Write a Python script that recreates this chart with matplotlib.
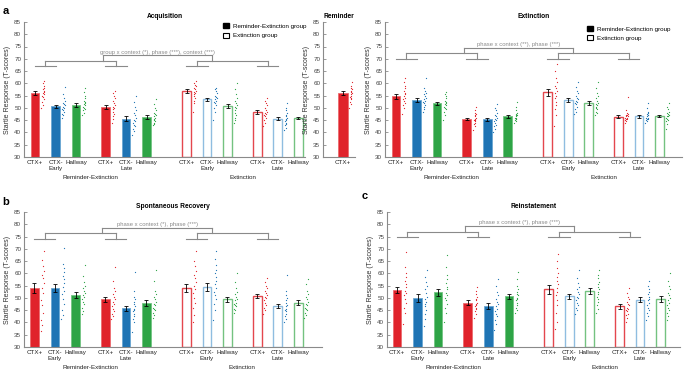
import matplotlib.pyplot as plt
import numpy as np
from matplotlib.patches import Patch

# bar positions / labels shared by all the two-group panels
positions = [0, 1, 2, 3.45, 4.45, 5.45, 7.4, 8.4, 9.4, 10.85, 11.85, 12.85]
tick_labels = ["CTX+", "CTX-\nEarly", "Hallway", "CTX+", "CTX-\nLate", "Hallway"] * 2
group_names = ["Reminder-Extinction", "Extinction"]

# ---- Acquisition ----
acq_means = [56.0, 50.6, 51.2, 50.3, 45.6, 46.2, 56.7, 53.5, 50.7, 48.5, 45.6, 45.9]
acq_sem = [0.8, 0.7, 0.8, 0.8, 1.0, 0.7, 0.8, 0.7, 0.9, 0.8, 0.5, 0.5]
acq_dots = [
    [50, 51, 52.5, 53.5, 54.5, 55, 55.5, 56, 56.5, 57, 57.5, 58, 59, 60, 61],
    [46, 47, 47.5, 48.5, 49, 49.5, 50, 50.5, 51, 51.5, 52, 53, 54, 55.5, 58.5],
    [47, 48, 49, 49.5, 50, 50.5, 51, 51.5, 52, 52.5, 53, 54, 55, 56.5, 58],
    [44, 45.5, 46.5, 47.5, 48.5, 49.5, 50, 50.5, 51, 52, 53, 54, 55, 56, 57],
    [39, 40.5, 41.5, 42.5, 43, 44, 44.5, 45, 46, 47, 48, 49, 50.5, 52.5, 55],
    [43, 43.5, 44, 44.5, 45, 45.5, 46, 46.5, 47, 47.5, 48, 49, 50, 51.5, 53.5],
    [48.5, 52, 53, 54, 55, 55.5, 56, 56.5, 57, 57.5, 58, 59, 59.5, 60, 61],
    [45, 48.5, 50, 51, 52, 52.5, 53, 53.5, 54, 54.5, 55, 56, 57, 57.5, 58],
    [44, 45, 46, 47, 48, 49, 50, 50.5, 51, 52, 53, 54, 55.5, 57.5, 60],
    [42.5, 44, 45, 46, 46.5, 47, 47.5, 48, 48.5, 49, 50, 51, 52, 53, 54],
    [41, 42, 43, 43.5, 44, 44.5, 45, 45.5, 46, 46.5, 47, 48, 49, 50, 52],
    [41, 42.5, 43.5, 44, 44.5, 45, 45.5, 46, 46.5, 47, 47.5, 48, 49, 51, 54],
]

# ---- Reminder ----
rem_mean = 56.0
rem_sem = 0.7
rem_dots = [50, 51.5, 52.5, 53.5, 54, 54.5, 55, 55.5, 56, 56.5, 57, 57.5, 58, 59, 60.5]

# ---- Extinction ----
ext_means = [54.8, 53.3, 51.8, 45.4, 45.3, 46.5, 56.3, 53.2, 52.0, 46.3, 46.6, 46.7]
ext_sem = [1.0, 0.8, 0.7, 0.5, 0.7, 0.7, 1.4, 0.8, 0.8, 0.6, 0.6, 0.6]
ext_dots = [
    [47.5, 50, 51, 52, 53, 53.5, 54, 55, 55.5, 56, 57, 58, 59, 60.5, 62],
    [48.5, 49.5, 50.5, 51, 52, 52.5, 53, 53.5, 54, 55, 55.5, 56, 57, 58, 62],
    [45, 47, 48.5, 49.5, 50, 50.5, 51, 51.5, 52, 52.5, 53, 54, 55, 55.5, 56.5],
    [41, 42.5, 43.5, 44, 44.5, 45, 45, 45.5, 46, 46.5, 47, 47.5, 48, 49, 50.5],
    [40, 41.5, 42.5, 43, 44, 44.5, 45, 45.5, 46, 46.5, 47, 48, 49, 50, 51.5],
    [44, 44.5, 45, 45.5, 45.5, 46, 46, 46.5, 47, 47, 47.5, 48, 49, 50.5, 52.5],
    [42.5, 47, 49.5, 51, 52.5, 54, 55, 56, 57, 58, 59, 60.5, 62, 65, 68],
    [47.5, 48.5, 49.5, 50.5, 51.5, 52, 52.5, 53, 53.5, 54, 55, 56, 57, 58.5, 60.5],
    [47, 48, 48.5, 49.5, 50, 50.5, 51, 51.5, 52, 53, 54, 55, 56, 58, 60.5],
    [44, 44.5, 45, 45.5, 45.5, 46, 46, 46.5, 46.5, 47, 47, 47.5, 48, 49, 54.5],
    [44, 44.5, 45, 45.5, 45.5, 46, 46, 46.5, 47, 47, 47.5, 48, 48.5, 50, 52],
    [41.5, 43.5, 44.5, 45, 45.5, 46, 46.5, 46.5, 47, 47.5, 48, 48.5, 49.5, 50.5, 52],
]

# ---- Spontaneous Recovery ----
sr_means = [54.0, 54.0, 51.0, 49.4, 45.8, 48.0, 54.0, 54.5, 49.4, 50.6, 46.7, 48.1]
sr_sem = [2.2, 1.7, 1.2, 1.0, 1.0, 1.2, 1.7, 1.5, 1.0, 0.8, 0.9, 1.1]
sr_dots = [
    [36.5, 39, 41, 44, 47, 49, 52, 54, 56, 58, 59.5, 61, 63, 65.5, 69],
    [41.5, 43, 45, 47.5, 49.5, 51.5, 53, 54.5, 56, 57.5, 59, 60.5, 62, 64, 70.5],
    [43.5, 44.5, 46, 47.5, 48.5, 49.5, 50.5, 51, 52, 53, 54, 55, 56.5, 59, 63.5],
    [41.5, 42.5, 43.5, 44.5, 45.5, 46.5, 47.5, 48.5, 49.5, 50.5, 51.5, 53, 54, 57, 62.5],
    [36, 40, 41.5, 42.5, 43.5, 44.5, 45, 45.5, 46.5, 47.5, 48.5, 49.5, 50.5, 53, 60.5],
    [42, 43, 44, 45, 45.5, 46, 47, 47.5, 48.5, 49.5, 50.5, 51.5, 53, 57, 61.5],
    [40, 43, 46, 48, 50, 52, 53.5, 55, 56.5, 58, 59.5, 61, 63, 65, 69],
    [41, 45, 47.5, 49.5, 51, 52.5, 54, 55.5, 57, 58.5, 60, 61.5, 63.5, 66, 69],
    [44, 45, 45.5, 46.5, 47, 47.5, 48, 49, 49.5, 50.5, 51.5, 52.5, 54, 56.5, 60],
    [43.5, 45, 46, 47, 48, 49, 50, 50.5, 51, 52, 53, 54, 55, 56.5, 58],
    [40, 41.5, 42.5, 43.5, 44.5, 45, 45.5, 46.5, 47, 48, 49, 50, 51, 53, 59.5],
    [42, 43, 44, 45, 45.5, 46, 47, 47.5, 48.5, 49.5, 50.5, 51.5, 53, 55.5, 57.5],
]

# ---- Reinstatement ----
rein_means = [53.2, 50.0, 52.2, 48.0, 46.8, 50.6, 53.5, 50.7, 52.7, 46.5, 49.3, 49.7]
rein_sem = [1.3, 1.5, 1.6, 1.0, 1.3, 1.0, 1.8, 1.0, 1.2, 1.0, 0.9, 1.2]
rein_dots = [
    [39.5, 44, 46, 48, 49.5, 51, 52, 53, 54.5, 55.5, 57, 58.5, 60, 62.5, 68.5],
    [38.5, 41.5, 43.5, 45, 46.5, 47.5, 48.5, 49.5, 50.5, 52, 53.5, 55, 56.5, 58.5, 61.5],
    [40, 44, 46, 47.5, 49, 50, 51, 52, 53.5, 54.5, 56, 57.5, 59.5, 62.5, 67.5],
    [42, 43.5, 44.5, 45.5, 46, 46.5, 47, 47.5, 48, 49, 49.5, 50.5, 51.5, 53, 54.5],
    [37, 39.5, 41, 42.5, 43.5, 44.5, 45.5, 46.5, 47.5, 48.5, 49.5, 51, 52.5, 55, 57.5],
    [44, 45, 46, 47, 48, 49, 49.5, 50, 51, 51.5, 52.5, 53.5, 55, 57.5, 60.5],
    [37.5, 40, 44, 47, 49, 51, 52.5, 54, 55.5, 57, 58.5, 60, 62, 65, 68],
    [43.5, 45, 46, 47, 48, 49, 50, 50.5, 51.5, 52.5, 53.5, 54.5, 56, 58, 61.5],
    [44, 45.5, 47, 48.5, 49.5, 50.5, 51.5, 52.5, 53.5, 54.5, 55.5, 56.5, 58, 59.5, 61.5],
    [40, 42, 43, 43.5, 44.5, 45, 45.5, 46, 47, 47.5, 48.5, 49.5, 50.5, 52, 54],
    [41, 42.5, 44, 45, 46, 47, 48, 49, 49.5, 50.5, 51.5, 52.5, 53.5, 55, 57],
    [41, 42.5, 44, 45, 46, 47, 48, 49, 50, 51, 52, 53.5, 55, 57, 60],
]

RED, BLUE, GREEN = "#e0232b", "#1f74b4", "#2ea446"
FILL_EDGE = ["#ec6a6e", "#6aa6d3", "#73c482"]
OPEN_EDGE = ["#e4474d", "#8fbde0", "#74c280"]
COLORS = [RED, BLUE, GREEN]
GREY = "#8a8a8a"
TICK_FS = 4.5

plt.rcParams["font.family"] = "Liberation Sans"

fig = plt.figure(figsize=(6.85, 3.72), dpi=100)


def style_axis(ax, xlim):
    ax.set_xlim(*xlim)
    ax.set_ylim(30, 85)
    ax.set_yticks(range(30, 86, 5))
    for side in ("top", "right"):
        ax.spines[side].set_visible(False)
    for side in ("left", "bottom"):
        ax.spines[side].set_color(GREY)
        ax.spines[side].set_linewidth(0.8)
    ax.tick_params(axis="y", direction="in", length=2.5, width=0.6, color=GREY,
                   labelsize=TICK_FS, labelcolor="#444", pad=2)
    ax.tick_params(axis="x", direction="in", length=2.5, width=0.7, color="black",
                   labelsize=TICK_FS, labelcolor="#222", pad=2.5)
    ax.set_ylabel("Startle Response (T-scores)", fontsize=5, color="#333", labelpad=2)


def draw_dots(ax, x, vals, color):
    vals = np.sort(np.asarray(vals, dtype=float))
    n = len(vals)
    idx = np.arange(n)
    offs = 0.3 + 0.08 * idx / (n - 1) + 0.12 * ((idx * 0.618) % 1)
    ax.scatter(x + offs, vals, s=0.8, color=color, linewidths=0, zorder=3)


def draw_panel(ax, means, sems, dots, xlim, title, levels, stat_text):
    style_axis(ax, xlim)
    for i, (x, m, s) in enumerate(zip(positions, means, sems)):
        c = i % 3
        if i < 6:
            ax.bar(x, m - 30, bottom=30, width=0.42, color=COLORS[c],
                   edgecolor=FILL_EDGE[c], linewidth=0.6, zorder=2)
        else:
            ax.bar(x, m - 30, bottom=30, width=0.42, color="white",
                   edgecolor=OPEN_EDGE[c], linewidth=1.0, zorder=2)
        ax.errorbar(x, m, yerr=s, fmt="none", ecolor="black", elinewidth=0.6,
                    capsize=1.3, capthick=0.6, zorder=4)
        draw_dots(ax, x, dots[i], COLORS[c])
    ax.set_xticks(positions)
    ax.set_xticklabels(tick_labels)
    for g, name in enumerate(group_names):
        xc = np.mean(positions[g * 6:(g + 1) * 6])
        ax.annotate(name, xy=(xc, 0), xycoords=("data", "axes fraction"),
                    xytext=(0, -13), textcoords="offset points",
                    ha="center", va="top", fontsize=TICK_FS, color="#222")
    ax.set_title(title, fontsize=4.8, fontweight="bold", pad=3)

    # dendrogram-style comparison brackets
    low, mid, top = levels
    kw = dict(color=GREY, linewidth=0.8, clip_on=False, zorder=1)
    for p0 in (0, 3.45, 7.4, 10.85):
        ax.plot([p0 - 0.02, p0 + 1.02], [low, low], **kw)
        ax.plot([p0 + 0.5, p0 + 0.5], [low, mid], **kw)
    for a, b in ((0.5, 3.95), (7.9, 11.35)):
        ax.plot([a, b], [mid, mid], **kw)
    for xv in (3.3, 8.65):
        ax.plot([xv, xv], [mid, top], **kw)
    ax.plot([3.3, 8.65], [top, top], **kw)
    ax.text((3.3 + 8.65) / 2, top + 0.2, stat_text, ha="center", va="bottom",
            fontsize=4.2, color=GREY)


def add_legend(ax, anchor):
    handles = [Patch(facecolor="black", edgecolor="black"),
               Patch(facecolor="white", edgecolor="black", linewidth=0.8)]
    ax.legend(handles, ["Reminder-Extinction group", "Extinction group"],
              loc="upper left", bbox_to_anchor=anchor, frameon=False,
              fontsize=TICK_FS, handlelength=0.9, handleheight=0.9,
              handletextpad=0.7, labelspacing=0.6, borderaxespad=0)


# panel a: acquisition
ax_acq = fig.add_axes([0.0350, 0.578, 0.410, 0.363])
draw_panel(ax_acq, acq_means, acq_sem, acq_dots, (-0.54, 13.17), "Acquisition",
           (67, 69.2, 71.5), "group x context (*), phase (***), context (***)")
add_legend(ax_acq, (0.70, 1.01))

# panel a: reminder
ax_rem = fig.add_axes([0.4715, 0.578, 0.0467, 0.363])
style_axis(ax_rem, (-0.98, 0.59))
ax_rem.bar(0, rem_mean - 30, bottom=30, width=0.5, color=RED,
           edgecolor=FILL_EDGE[0], linewidth=0.6, zorder=2)
ax_rem.errorbar(0, rem_mean, yerr=rem_sem, fmt="none", ecolor="black",
                elinewidth=0.6, capsize=1.3, capthick=0.6, zorder=4)
draw_dots(ax_rem, 0, rem_dots, RED)
ax_rem.set_xticks([0])
ax_rem.set_xticklabels(["CTX+"])
ax_rem.set_title("Reminder", fontsize=4.8, fontweight="bold", pad=3)

# panel a: extinction
ax_ext = fig.add_axes([0.562, 0.578, 0.4336, 0.363])
draw_panel(ax_ext, ext_means, ext_sem, ext_dots, (-0.54, 13.95), "Extinction",
           (70, 72.2, 74.5), "phase x context (**), phase (***)")
add_legend(ax_ext, (0.672, 0.99))

# panel b: spontaneous recovery
ax_sr = fig.add_axes([0.035, 0.0672, 0.435, 0.363])
draw_panel(ax_sr, sr_means, sr_sem, sr_dots, (-0.51, 14.0), "Spontaneous Recovery",
           (74, 76.3, 78.6), "phase x context (*), phase (***)")

# panel c: reinstatement
ax_rein = fig.add_axes([0.565, 0.0672, 0.4277, 0.363])
draw_panel(ax_rein, rein_means, rein_sem, rein_dots, (-0.49, 13.8), "Reinstatement",
           (74.7, 77, 79.3), "phase x context (*), phase (***)")

fig.text(0.004, 0.985, "a", fontsize=8, fontweight="bold", va="top")
fig.text(0.004, 0.47, "b", fontsize=8, fontweight="bold", va="top")
fig.text(0.528, 0.487, "c", fontsize=8, fontweight="bold", va="top")

fig.savefig("out.png", dpi=100)
